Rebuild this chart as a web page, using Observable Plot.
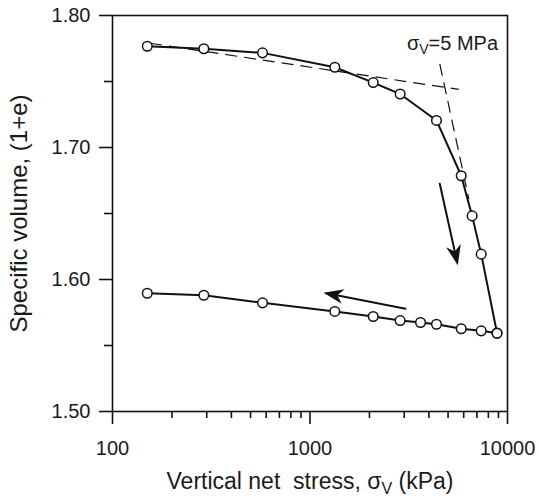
<!DOCTYPE html>
<html><head><meta charset="utf-8">
<script src="https://cdn.jsdelivr.net/npm/d3@7"></script>
<script src="https://cdn.jsdelivr.net/npm/@observablehq/plot@0.6"></script>
<style>
body{margin:0;background:#fff}
#chart svg{font-family:"Liberation Sans",Arial,Helvetica,sans-serif}
</style>
</head><body><div id="chart"></div>
<script>
// Loading branch (kPa, specific volume)
const loadStress = [150, 290, 575, 1335, 2090, 2860, 4370, 5830, 6620, 7360, 8850];
const loadVolume = [1.7767, 1.7748, 1.7717, 1.7608, 1.7492, 1.7405, 1.7205, 1.6786, 1.6482, 1.6192, 1.5595];
// Unloading branch
const unloadStress = [8850, 7360, 5830, 4370, 3627, 2860, 2090, 1335, 575, 290, 150];
const unloadVolume = [1.5593, 1.5611, 1.5627, 1.5661, 1.5674, 1.5689, 1.5720, 1.5758, 1.5823, 1.5881, 1.5896];
// Construction (dashed) lines for the yield stress
const dashA = {x1: 155, y1: 1.779, x2: 5670, y2: 1.744};
const dashB = {x1: 4540, y1: 1.7634, x2: 6370, y2: 1.661};
// Direction arrows (start, end)
const arrowStartX = [4540, 3045];
const arrowStartY = [1.6725, 1.5778];
const arrowEndX = [5560, 1212];
const arrowEndY = [1.6131, 1.5896];
const annotation = {x: 5266, y: 1.779, text: "σV=5 MPa"};
// Ticks
const xMajor = [100, 1000, 10000];
const xMinor = [200, 300, 400, 500, 600, 700, 800, 900, 2000, 3000, 4000, 5000, 6000, 7000, 8000, 9000];
const yMajor = [1.5, 1.6, 1.7, 1.8];
const yMinor = [1.55, 1.65, 1.75];
const xTitle = "Vertical net  stress, σV (kPa)";
const yTitle = "Specific volume, (1+e)";

const loadData = loadStress.map((x, i) => ({x, y: loadVolume[i]}));
const unloadData = unloadStress.map((x, i) => ({x, y: unloadVolume[i]}));
const arrowData = arrowStartX.flatMap((x, i) => [
  {id: i, x, y: arrowStartY[i]},
  {id: i, x: arrowEndX[i], y: arrowEndY[i]}
]);
const ink = "#111";

// Filled, notched arrowhead
function stealth(color, context) {
  const m = d3.create("svg:marker")
    .attr("viewBox", "-20 -8 23 16")
    .attr("markerWidth", 23).attr("markerHeight", 16)
    .attr("markerUnits", "userSpaceOnUse")
    .attr("orient", "auto")
    .attr("overflow", "visible");
  m.append("path").attr("fill", ink).attr("stroke", "none")
    .attr("d", "M3,0 L-17,-7.5 L-11,0 L-17,7.5 Z");
  return m.node();
}

const chart = Plot.plot({
  width: 539, height: 496,
  marginTop: 15, marginBottom: 85, marginLeft: 112, marginRight: 32,
  style: {fontFamily: "'Liberation Sans', Arial, sans-serif", fontSize: "20px", color: "#1a1a1a", background: "#fff", overflow: "visible"},
  x: {type: "log", domain: [100, 10000]},
  y: {domain: [1.5, 1.8]},
  marks: [
    Plot.link([dashA, dashB], {x1: "x1", y1: "y1", x2: "x2", y2: "y2", stroke: ink, strokeWidth: 1.2, strokeDasharray: "12,7"}),
    Plot.line(loadData, {x: "x", y: "y", stroke: ink, strokeWidth: 2}),
    Plot.line(unloadData, {x: "x", y: "y", stroke: ink, strokeWidth: 2}),
    Plot.dot(loadData, {x: "x", y: "y", r: 4.8, stroke: ink, fill: "white", strokeWidth: 1.5}),
    Plot.dot(unloadData, {x: "x", y: "y", r: 4.8, stroke: ink, fill: "white", strokeWidth: 1.5}),
    Plot.line(arrowData, {x: "x", y: "y", z: "id", stroke: ink, strokeWidth: 2, markerEnd: stealth}),
    Plot.text([annotation], {x: "x", y: "y", text: "text", fontSize: 20, fill: "#1a1a1a", textAnchor: "middle"}),
    Plot.frame({stroke: ink, strokeWidth: 1.6}),
    Plot.axisX({ticks: xMajor, tickSize: 13, tickPadding: 16, tickFormat: d => String(d), label: null, fontSize: 20, strokeWidth: 1.6, stroke: ink}),
    Plot.axisX({ticks: xMinor, tickSize: 7, tickFormat: () => "", label: null, strokeWidth: 1.6, stroke: ink}),
    Plot.axisY({ticks: yMajor, tickSize: 13, tickPadding: 9, tickFormat: d3.format(".2f"), label: null, fontSize: 20, strokeWidth: 1.6, stroke: ink}),
    Plot.axisY({ticks: yMinor, tickSize: 8, tickFormat: () => "", label: null, strokeWidth: 1.6, stroke: ink}),
    Plot.text([xTitle], {frameAnchor: "bottom", dy: 77, lineAnchor: "bottom", textAnchor: "middle", fontSize: 23, fill: "#1a1a1a"}),
    Plot.text([yTitle], {frameAnchor: "left", dx: -86, rotate: -90, lineAnchor: "bottom", textAnchor: "middle", fontSize: 24, fill: "#1a1a1a"})
  ]
});

// Render "σV" with a subscript V
const NS = "http://www.w3.org/2000/svg";
chart.querySelectorAll("text").forEach(t => {
  const s = t.textContent;
  if (!s.includes("σV")) return;
  const [a, b] = s.split("σV");
  while (t.firstChild) t.removeChild(t.firstChild);
  const add = (txt, attrs) => {
    const e = document.createElementNS(NS, "tspan");
    e.textContent = txt;
    for (const k in attrs) e.setAttribute(k, attrs[k]);
    t.appendChild(e);
  };
  add(a + "σ", {});
  add("V", {"font-size": "70%", dy: "0.32em"});
  add(b, {dy: "-0.224em"});
});

document.getElementById("chart").appendChild(chart);
</script>
</body></html>
